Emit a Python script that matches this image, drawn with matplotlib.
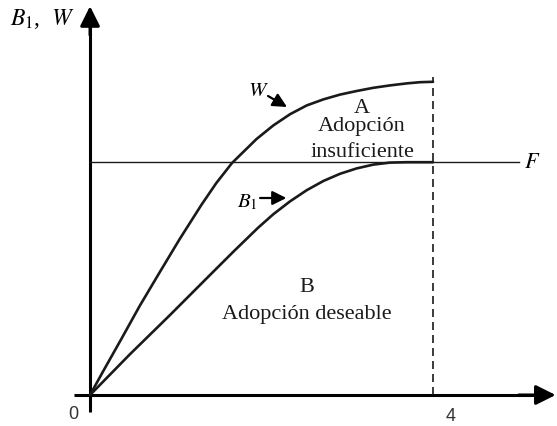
import numpy as np
import matplotlib
matplotlib.use('Agg')
import matplotlib.pyplot as plt

plt.rcParams['font.family'] = ['Liberation Serif', 'DejaVu Serif']
plt.rcParams['mathtext.fontset'] = 'stix'

# curva W (beneficio social) y B1 (beneficio privado)
x_w = [0, 0.152, 0.365, 0.580, 0.813, 1.046, 1.298, 1.473, 1.656, 1.942, 2.138,
       2.333, 2.528, 2.721, 2.915, 3.110, 3.304, 3.499, 3.693, 3.848, 4.0]
w = [0, 0.59, 1.40, 2.23, 3.07, 3.90, 4.75, 5.30, 5.80, 6.40, 6.74,
     7.02, 7.24, 7.39, 7.51, 7.60, 7.68, 7.74, 7.79, 7.82, 7.83]
x_b = [0, 0.466, 0.933, 1.399, 1.680, 1.959, 2.138, 2.332, 2.527, 2.721,
       2.915, 3.110, 3.304, 3.499, 3.693, 4.0]
b1 = [0, 1.02, 2.0, 3.0, 3.6, 4.18, 4.52, 4.84, 5.12, 5.35,
      5.53, 5.665, 5.76, 5.81, 5.82, 5.82]
f_val = 5.82
f_x = [0, 5.0]
x_ticks = [0, 4]

fig = plt.figure(figsize=(5.57, 4.27), dpi=100)
ax = fig.add_axes([0, 0, 1, 1])
ax.set_xlim(-1.05, 5.446)
ax.set_ylim(-0.775, 9.9)
ax.axis('off')

# ejes con flechas
head = '-|>,head_length=0.6,head_width=0.3'
ax.plot([-0.19, 5.2], [0, 0], color='k', lw=2.2, solid_capstyle='butt')
ax.annotate('', xy=(5.43, 0), xytext=(5.0, 0),
            arrowprops=dict(arrowstyle=head, color='k', lw=2.2,
                            mutation_scale=20, shrinkA=0, shrinkB=0))
ax.plot([0, 0], [-0.43, 9.3], color='k', lw=2.2, solid_capstyle='butt')
ax.annotate('', xy=(0, 9.72), xytext=(0, 9.0),
            arrowprops=dict(arrowstyle=head, color='k', lw=2.2,
                            mutation_scale=20, shrinkA=0, shrinkB=0))

# curvas
ax.plot(x_w, w, color='#1a1a1a', lw=1.9, solid_joinstyle='round', solid_capstyle='round')
ax.plot(x_b, b1, color='#1a1a1a', lw=1.9, solid_joinstyle='round', solid_capstyle='round')
ax.plot(f_x, [f_val, f_val], color='#1a1a1a', lw=1.0)
dl, = ax.plot([x_ticks[1], x_ticks[1]], [0, 7.95], color='#1a1a1a', lw=1.2)
dl.set_dashes((4.8, 3))

# etiquetas
ax.text(-0.933, 9.275, r'$B_1$,  $W$', fontsize=17, ha='left', va='baseline')
ax.text(-0.198, -0.475, '0', fontsize=13, family='Liberation Sans', color='#333333',
        ha='center', va='center')
ax.text(4.21, -0.525, '4', fontsize=13, family='Liberation Sans', color='#333333',
        ha='center', va='center')
ax.text(5.155, 5.8, '$F$', fontsize=16, ha='center', va='center')

ax.text(1.843, 7.5, '$W$', fontsize=15, ha='left', va='baseline')
ax.annotate('', xy=(2.297, 7.2), xytext=(2.076, 7.475),
            arrowprops=dict(arrowstyle=head, color='k', lw=1.6,
                            mutation_scale=14, shrinkA=0, shrinkB=0))
ax.text(1.714, 4.725, '$B_1$', fontsize=15, ha='left', va='baseline')
ax.annotate('', xy=(2.29, 4.925), xytext=(1.983, 4.925),
            arrowprops=dict(arrowstyle=head, color='k', lw=1.6,
                            mutation_scale=14, shrinkA=0, shrinkB=0))

ax.text(3.172, 7.075, 'A', fontsize=16, ha='center', va='baseline', color='#1a1a1a')
ax.text(3.172, 6.625, 'Adopción', fontsize=16, ha='center', va='baseline', color='#1a1a1a')
ax.text(3.172, 5.975, 'insuficiente', fontsize=16, ha='center', va='baseline', color='#1a1a1a')
ax.text(2.53, 2.6, 'B', fontsize=16, ha='center', va='baseline', color='#1a1a1a')
ax.text(2.53, 1.925, 'Adopción deseable', fontsize=16, ha='center', va='baseline', color='#1a1a1a')

fig.savefig('out.png', dpi=100)
